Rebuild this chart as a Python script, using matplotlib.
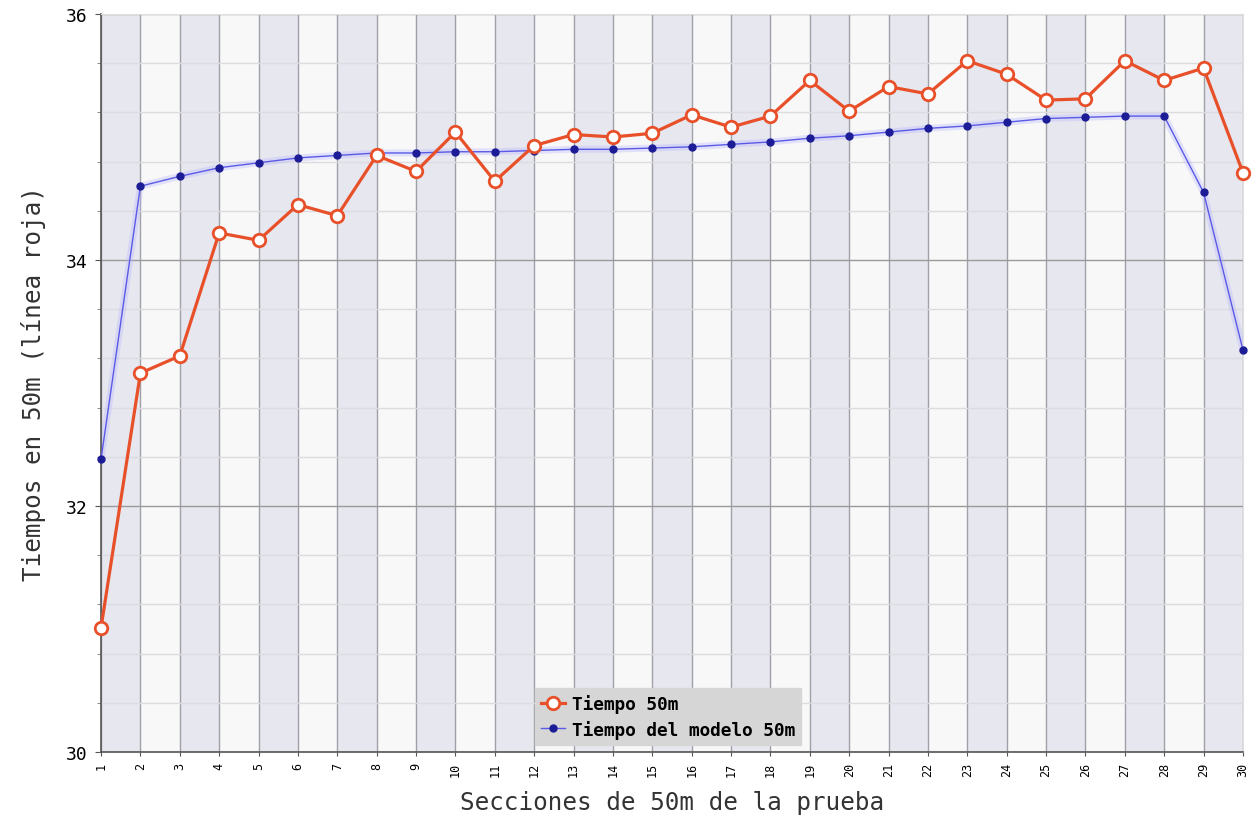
import matplotlib as mpl
mpl.use('Agg')
import matplotlib.pyplot as plt
from matplotlib.ticker import MultipleLocator

secciones = list(range(1, 31))
tiempo_50m = [31.01, 33.08, 33.22, 34.22, 34.16, 34.45, 34.36, 34.85, 34.72, 35.04,
              34.64, 34.93, 35.02, 35.00, 35.03, 35.18, 35.08, 35.17, 35.46, 35.21,
              35.41, 35.35, 35.62, 35.51, 35.30, 35.31, 35.62, 35.46, 35.56, 34.71]
tiempo_modelo = [32.38, 34.60, 34.68, 34.75, 34.79, 34.83, 34.85, 34.87, 34.87, 34.88,
                 34.88, 34.89, 34.90, 34.90, 34.91, 34.92, 34.94, 34.96, 34.99, 35.01,
                 35.04, 35.07, 35.09, 35.12, 35.15, 35.16, 35.17, 35.17, 34.55, 33.27]

mono = 'DejaVu Sans Mono'

fig = plt.figure(figsize=(12.58, 8.28), dpi=100)
ax = fig.add_axes([0.0803, 0.0906, 0.9077, 0.8913])

# alternating column bands
for i in range(1, 30):
    color = '#e7e7ef' if i % 2 == 1 else '#f8f8f8'
    ax.axvspan(i, i + 1, color=color, zorder=0, lw=0)

ax.set_xlim(1, 30)
ax.set_ylim(30, 36)
ax.set_xticks(secciones)
ax.yaxis.set_major_locator(MultipleLocator(2))
ax.yaxis.set_minor_locator(MultipleLocator(0.4))

ax.grid(which='major', axis='x', color='#a0a0a8', lw=1.0, zorder=1)
ax.grid(which='major', axis='y', color='#9a9a9a', lw=1.0, zorder=1)
ax.grid(which='minor', axis='y', color='#dcdce0', lw=1.0, zorder=1)

# model line with soft halo
ax.plot(secciones, tiempo_modelo, color='#b8b8ff', lw=5, alpha=0.35, zorder=2,
        solid_capstyle='round')
ax.plot(secciones, tiempo_modelo, color='#5a5ae6', lw=1.0, marker='o', ms=5,
        mfc='#1c1c96', mec='#1c1c96', zorder=3, clip_on=False,
        label='Tiempo del modelo 50m')
ax.plot(secciones, tiempo_50m, color='#e8502a', lw=2.3, marker='o', ms=9,
        mfc='white', mec='#e8502a', mew=2.0, zorder=4, clip_on=False,
        label='Tiempo 50m')

for side in ('top', 'right'):
    ax.spines[side].set_color('#e0e0e0')
for side in ('left', 'bottom'):
    ax.spines[side].set_color('#555555')
    ax.spines[side].set_linewidth(1.2)

ax.tick_params(axis='x', which='major', length=3, color='#555555', labelsize=8.5,
               labelrotation=90, pad=4)
ax.tick_params(axis='y', which='major', length=4, color='#555555', labelsize=13, pad=6)
ax.tick_params(axis='y', which='minor', length=3, color='#777777')
for lbl in ax.get_xticklabels() + ax.get_yticklabels():
    lbl.set_family(mono)

ax.set_xlabel('Secciones de 50m de la prueba', family=mono, fontsize=17.5,
              color='#333333', labelpad=10)
ax.set_ylabel('Tiempos en 50m (línea roja)', family=mono, fontsize=17.5,
              color='#333333', labelpad=14)

handles, labels = ax.get_legend_handles_labels()
leg = ax.legend(handles[::-1], labels[::-1], loc='lower left',
                bbox_to_anchor=(0.374, 0.0), frameon=True, fancybox=False,
                prop={'family': mono, 'weight': 'bold', 'size': 12.8},
                handlelength=1.3, handletextpad=0.4, borderpad=0.35,
                labelspacing=0.35, borderaxespad=0.4)
leg.get_frame().set_facecolor('#d6d6d6')
leg.get_frame().set_edgecolor('#d6d6d6')
leg.get_frame().set_alpha(1)
leg.set_zorder(6)

fig.savefig('out.png', dpi=100)
